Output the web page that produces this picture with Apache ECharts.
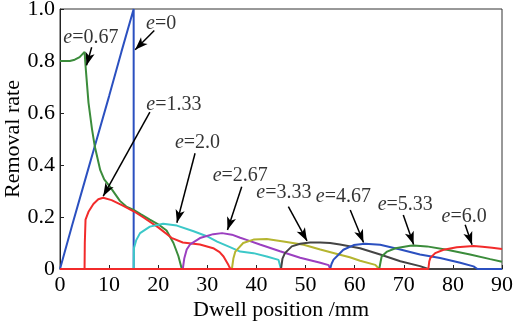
<!DOCTYPE html>
<html>
<head>
<meta charset="utf-8">
<script src="https://cdn.jsdelivr.net/npm/echarts@6/dist/echarts.min.js"></script>
<style>html,body{margin:0;padding:0;background:#fff}#chart{width:514px;height:323px}</style>
</head>
<body>
<div id="chart"></div>
<script>
// removal rate curves, [dwell position mm, rate]
var e0 = [[0,0],[2.5,0.17],[5,0.335],[7.5,0.5],[10,0.665],[12.5,0.835],[15,1.0],[15,0],[90,0]];
var e067 = [[0,0.80],[1,0.80],[2,0.80],[3,0.805],[4,0.815],[5,0.835],[5.25,0.77],[5.8,0.64],[6.5,0.54],[7.1,0.47],[8.2,0.38],[9,0.345],[10.2,0.316],[12.2,0.262],[13.5,0.24],[14.9,0.228],[16.5,0.21],[18.3,0.19],[20,0.172],[21.7,0.148],[23.1,0.1],[24.1,0.05],[24.8,0],[90,0]];
var e133 = [[0,0],[5,0],[5.05,0.1],[5.2,0.19],[5.8,0.22],[6.8,0.25],[7.8,0.268],[8.8,0.274],[10.5,0.265],[12.6,0.246],[15,0.222],[17,0.198],[20,0.16],[22.7,0.12],[25,0.102],[28.5,0.094],[31.2,0.08],[32.5,0.065],[33.3,0.048],[34.3,0.015],[34.7,0],[90,0]];
var e20 = [[0,0],[15,0],[15.05,0.08],[15.5,0.11],[16.3,0.138],[18.3,0.163],[21,0.174],[23.8,0.167],[27.2,0.145],[29.9,0.126],[32,0.105],[34.5,0.085],[36.7,0.067],[39.4,0.061],[42.1,0.048],[44.5,0.035],[45,0],[90,0]];
var e267 = [[0,0],[25,0],[25.3,0.04],[25.8,0.075],[26.5,0.095],[28.5,0.119],[31.2,0.134],[33,0.138],[35,0.132],[36.7,0.12],[38,0.112],[40.7,0.094],[44.8,0.068],[48.9,0.043],[53,0.024],[54.7,0.015],[55,0],[90,0]];
var e333 = [[0,0],[35,0],[35.3,0.04],[35.7,0.067],[37.3,0.1],[39.4,0.113],[42.1,0.115],[45.5,0.106],[49.6,0.093],[53,0.075],[57,0.055],[59,0.045],[61.1,0.032],[64.2,0.016],[65,0],[90,0]];
var e40 = [[0,0],[45,0],[45.3,0.04],[45.8,0.061],[47.2,0.087],[48.9,0.097],[50.9,0.102],[53,0.102],[55,0.1],[57,0.094],[61.1,0.08],[65.2,0.056],[69.3,0.03],[73.3,0.011],[75,0],[90,0]];
var e467 = [[0,0],[55,0],[55.3,0.02],[55.7,0.036],[56.7,0.055],[57.7,0.074],[59.8,0.092],[62.1,0.097],[65.2,0.093],[69.3,0.075],[73.3,0.056],[77.4,0.042],[81.5,0.024],[84.2,0.01],[85,0],[90,0]];
var e533 = [[0,0],[65,0],[65.3,0.03],[65.5,0.048],[66.6,0.067],[68.3,0.08],[71.3,0.089],[72,0.09],[74.7,0.087],[78.8,0.074],[83.5,0.056],[87.6,0.038],[90,0.028]];
var e60 = [[0,0],[75,0],[75.2,0.03],[75.4,0.042],[76.4,0.061],[78.1,0.074],[80.8,0.084],[84.2,0.088],[86,0.086],[88,0.082],[90,0.077]];

var curves = [e0, e067, e133, e20, e267, e333, e40, e467, e533, e60];
var colors = ['#2b50c0', '#3b8c3b', '#f22b2b', '#3cc8c8', '#9b3fc0', '#b5b530', '#444444', '#2b50c0', '#3b8c3b', '#f22b2b'];

// annotations: label, text centre, arrow start -> tip
var annLabels = ['0', '0.67', '1.33', '2.0', '2.67', '3.33', '4.67', '5.33', '6.0'];
var annText = [[20.6,0.943],[6.3,0.888],[23.2,0.633],[28,0.487],[36.7,0.357],[45.6,0.292],[57.7,0.277],[70.3,0.246],[82.3,0.2]];
var annArrows = [
    [[19.2,0.917],[15.3,0.843]],
    [[6.45,0.853],[5.4,0.783]],
    [[18.3,0.603],[8.8,0.28]],
    [[27.5,0.445],[23.8,0.178]],
    [[37,0.316],[34.1,0.15]],
    [[46.5,0.24],[50.3,0.108]],
    [[59.1,0.227],[61.8,0.102]],
    [[69.9,0.208],[72,0.094]],
    [[82.5,0.17],[83.9,0.093]]
];

var xTicks = [0, 10, 20, 30, 40, 50, 60, 70, 80, 90];
var yTicks = ['0', '0.2', '0.4', '0.6', '0.8', '1.0'];

var font = 'Liberation Serif';
var chart = echarts.init(document.getElementById('chart'));

var series = curves.map(function (d, i) {
    return {
        type: 'line',
        data: d,
        showSymbol: false,
        symbol: 'none',
        lineStyle: { width: 2, color: colors[i] },
        itemStyle: { color: colors[i] },
        animation: false
    };
});

series.push({
    type: 'scatter',
    data: annText,
    symbolSize: 0,
    z: 10,
    animation: false,
    label: {
        show: true,
        position: 'inside',
        fontFamily: font,
        fontSize: 20,
        color: '#000',
        formatter: function (p) { return '{i|e}=' + annLabels[p.dataIndex]; },
        rich: { i: { fontStyle: 'italic', fontFamily: font, fontSize: 20, color: '#000' } }
    },
    markLine: {
        silent: true,
        animation: false,
        symbol: ['none', 'arrow'],
        symbolSize: [7, 13],
        label: { show: false },
        lineStyle: { color: '#000', width: 1.5, type: 'solid' },
        data: annArrows.map(function (a) {
            return [{ coord: a[0] }, { coord: a[1] }];
        })
    }
});

var option = {
    backgroundColor: '#fff',
    animation: false,
    grid: {
        left: 60, top: 9, right: 12, bottom: 54,
        containLabel: false,
        outerBoundsMode: 'none',
        show: true, borderColor: '#333', borderWidth: 1
    },
    xAxis: {
        type: 'value',
        min: 0, max: 90, interval: 10,
        name: 'Dwell position /mm',
        nameLocation: 'middle',
        nameGap: 30,
        nameMoveOverlap: false,
        nameTextStyle: { fontFamily: font, fontSize: 22, color: '#000' },
        axisLine: { lineStyle: { color: '#222', width: 1 } },
        axisTick: { inside: true, length: 4, lineStyle: { color: '#222' } },
        axisLabel: {
            fontFamily: font, fontSize: 22, color: '#000', margin: 5,
            formatter: function (v) { return xTicks.indexOf(v) >= 0 ? String(v) : ''; }
        },
        splitLine: { show: false }
    },
    yAxis: {
        type: 'value',
        min: 0, max: 1, interval: 0.2,
        name: 'Removal rate',
        nameLocation: 'middle',
        nameGap: 36,
        nameMoveOverlap: false,
        nameTextStyle: { fontFamily: font, fontSize: 22, color: '#000' },
        axisLine: { show: true, lineStyle: { color: '#222', width: 1 } },
        axisTick: { show: true, inside: true, length: 4, lineStyle: { color: '#222' } },
        axisLabel: {
            fontFamily: font, fontSize: 22, color: '#000', margin: 5,
            formatter: function (v) { return yTicks[Math.round(v * 5)]; }
        },
        splitLine: { show: false }
    },
    series: series
};

chart.setOption(option);
</script>
</body>
</html>
